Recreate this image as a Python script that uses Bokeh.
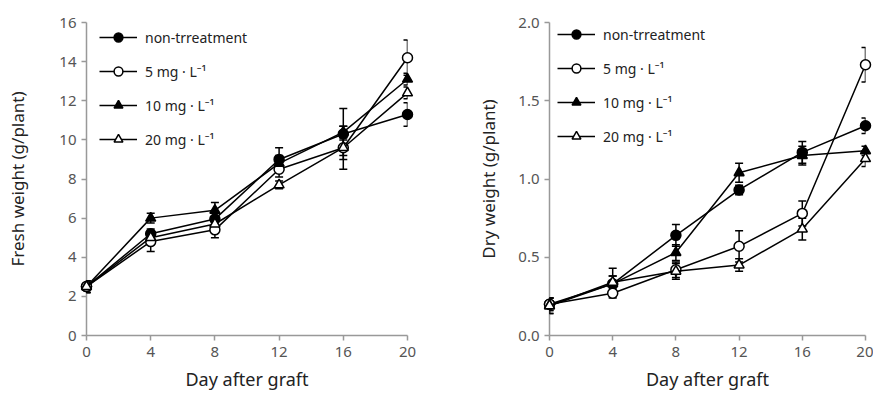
from bokeh.plotting import figure
from bokeh.models import (ColumnDataSource, Whisker, TeeHead, Legend, LegendItem,
                          Range1d, FixedTicker, NumeralTickFormatter)
from bokeh.layouts import row
from bokeh.embed import file_html
from bokeh.resources import INLINE

days = [0, 4, 8, 12, 16, 20]
series_labels = ["non-trreatment", "5 mg · L⁻¹", "10 mg · L⁻¹", "20 mg · L⁻¹"]

fresh_non = [2.5, 5.2, 5.95, 9.0, 10.3, 11.3]
fresh_non_err = [0.3, 0.25, 0.3, 0.6, 1.3, 0.6]
fresh_5 = [2.5, 4.8, 5.4, 8.5, 9.6, 14.2]
fresh_5_err = [0.3, 0.5, 0.4, 0.4, 1.1, 0.9]
fresh_10 = [2.5, 6.0, 6.4, 8.8, 10.4, 13.1]
fresh_10_err = [0.3, 0.25, 0.4, 0.4, 0.3, 0.3]
fresh_20 = [2.5, 5.0, 5.7, 7.7, 9.6, 12.4]
fresh_20_err = [0.3, 0.3, 0.3, 0.2, 0.4, 0.3]

dry_non = [0.20, 0.33, 0.64, 0.93, 1.17, 1.34]
dry_non_err = [0.04, 0.05, 0.07, 0.03, 0.07, 0.05]
dry_5 = [0.20, 0.27, 0.42, 0.57, 0.78, 1.73]
dry_5_err = [0.04, 0.03, 0.05, 0.10, 0.08, 0.11]
dry_10 = [0.19, 0.33, 0.53, 1.04, 1.15, 1.18]
dry_10_err = [0.05, 0.05, 0.05, 0.06, 0.06, 0.03]
dry_20 = [0.19, 0.34, 0.41, 0.45, 0.68, 1.13]
dry_20_err = [0.05, 0.09, 0.05, 0.04, 0.07, 0.05]

fresh_ticks = [0, 2, 4, 6, 8, 10, 12, 14, 16]
dry_ticks = [0.0, 0.5, 1.0, 1.5, 2.0]

FONT = "Noto Sans"
AXIS_COLOR = "#999999"
TICK_LABEL_COLOR = "#555555"
LABEL_COLOR = "#222222"

markers = [("circle", "black"), ("circle", "white"), ("triangle", "black"), ("triangle", "white")]


def make_panel(width, height, ylabel, ymax, yticks, series, errs, borders, legend_xy,
               ylabel_standoff, yfmt=None):
    p = figure(width=width, height=height, output_backend="svg", toolbar_location=None,
               x_range=Range1d(0, 20), y_range=Range1d(0, ymax),
               min_border_left=borders[0], min_border_right=borders[1],
               min_border_top=borders[2], min_border_bottom=borders[3])
    p.outline_line_color = None
    p.grid.grid_line_color = None
    p.background_fill_color = "white"
    p.border_fill_color = "white"

    items = []
    for (mk, fill), ys, es, lab in zip(markers, series, errs, series_labels):
        src = ColumnDataSource(dict(x=days, y=ys,
                                    upper=[a + b for a, b in zip(ys, es)],
                                    lower=[a - b for a, b in zip(ys, es)]))
        w = Whisker(base="x", upper="upper", lower="lower", source=src,
                    line_color="black", line_width=1.5, level="guide",
                    upper_head=TeeHead(size=8, line_color="black", line_width=1.5),
                    lower_head=TeeHead(size=8, line_color="black", line_width=1.5))
        p.add_layout(w)
        ln = p.line("x", "y", source=src, line_color="black", line_width=1.5,
                    level="annotation")
        sc = p.scatter("x", "y", source=src, marker=mk, size=10,
                       fill_color=fill, line_color="black", line_width=1.5,
                       level="annotation")
        items.append(LegendItem(label=lab, renderers=[ln, sc]))

    leg = Legend(items=items, location=legend_xy, orientation="vertical",
                 glyph_width=38, glyph_height=22, spacing=12, padding=0, margin=0,
                 label_standoff=8, label_text_font=FONT, label_text_font_size="14px",
                 label_text_color="#222222", background_fill_alpha=0,
                 border_line_alpha=0, label_height=22)
    p.add_layout(leg)

    for ax in (p.xaxis[0], p.yaxis[0]):
        ax.axis_line_color = AXIS_COLOR
        ax.axis_line_width = 1.5
        ax.major_tick_line_color = AXIS_COLOR
        ax.major_tick_line_width = 1.5
        ax.major_tick_out = 5
        ax.major_tick_in = 0
        ax.minor_tick_line_color = None
        ax.major_label_text_font = FONT
        ax.major_label_text_font_size = "15px"
        ax.major_label_text_color = TICK_LABEL_COLOR
        ax.axis_label_text_font = FONT
        ax.axis_label_text_font_style = "normal"
        ax.axis_label_text_color = LABEL_COLOR

    p.xaxis.ticker = FixedTicker(ticks=days)
    p.xaxis.axis_label = "Day after graft"
    p.xaxis.axis_label_text_font_size = "18px"
    p.xaxis.major_label_standoff = 6
    p.xaxis.axis_label_standoff = 7

    p.yaxis.ticker = FixedTicker(ticks=yticks)
    p.yaxis.axis_label = ylabel
    p.yaxis.axis_label_text_font_size = "17px"
    p.yaxis.major_label_standoff = 5
    p.yaxis.axis_label_standoff = ylabel_standoff
    if yfmt:
        p.yaxis.formatter = NumeralTickFormatter(format=yfmt)
    return p


left = make_panel(448, 399, "Fresh weight (g/plant)", 16, fresh_ticks,
                  [fresh_non, fresh_5, fresh_10, fresh_20],
                  [fresh_non_err, fresh_5_err, fresh_10_err, fresh_20_err],
                  (86, 41, 20, 63), (13, 185), 27)
right = make_panel(425, 399, "Dry weight (g/plant)", 2.0, dry_ticks,
                   [dry_non, dry_5, dry_10, dry_20],
                   [dry_non_err, dry_5_err, dry_10_err, dry_20_err],
                   (101, 8, 22, 64), (8, 188), 15, "0.0")

layout = row(left, right)
open("out.html", "w").write(file_html(layout, INLINE))
